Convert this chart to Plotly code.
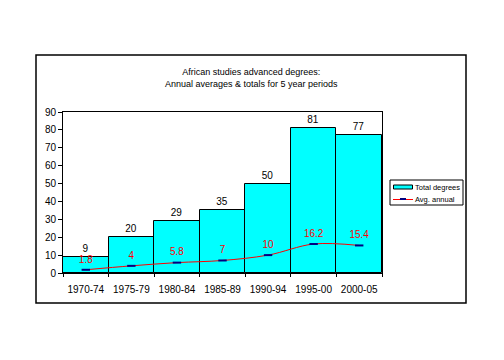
import plotly.graph_objects as go

periods = ["1970-74", "1975-79", "1980-84", "1985-89", "1990-94", "1995-00", "2000-05"]
total_degrees = [9, 20, 29, 35, 50, 81, 77]
avg_annual = [1.8, 4, 5.8, 7, 10, 16.2, 15.4]
avg_labels = ["1.8", "4", "5.8", "7", "10", "16.2", "15.4"]
series_names = ["Total degrees", "Avg. annual"]

FONT = "Liberation Sans, Arial, sans-serif"
CYAN = "#00FFFF"
NAVY = "#000080"

fig = go.Figure()
fig.add_trace(go.Bar(
    x=periods, y=total_degrees, name=series_names[0],
    marker=dict(color=CYAN, line=dict(color="black", width=1)),
    text=[str(v) for v in total_degrees], textposition="outside",
    textfont=dict(color="black", size=10, family=FONT),
    cliponaxis=False, showlegend=False,
))
fig.add_trace(go.Scatter(
    x=periods, y=avg_annual, name=series_names[1],
    mode="lines+markers+text",
    line=dict(color="red", width=1, shape="spline"),
    marker=dict(symbol="line-ew", size=6, line=dict(color=NAVY, width=2), color=NAVY),
    text=avg_labels, textposition="top center",
    textfont=dict(color="red", size=10, family=FONT),
    cliponaxis=False, showlegend=False,
))

L, R, T, B = 63, 382, 112, 273
W, H = 504, 360
pw, ph = R - L, B - T

def px(x):
    return (x - L) / pw

def py(y):
    return (B - y) / ph

def prect(x0, y0, x1, y1, **kw):
    return dict(type="rect", xref="paper", yref="paper",
                x0=px(x0), x1=px(x1), y0=py(y1), y1=py(y0), **kw)

def pline(x0, y0, x1, y1, **kw):
    return dict(type="line", xref="paper", yref="paper",
                x0=px(x0), x1=px(x1), y0=py(y0), y1=py(y1), **kw)

shapes = [
    prect(36, 55, 466, 303, line=dict(color="black", width=1.5), layer="below"),
    # legend box
    prect(390, 180, 463, 205, line=dict(color="black", width=1), fillcolor="white"),
    prect(393.5, 185, 412.5, 189, line=dict(color="black", width=1), fillcolor=CYAN),
    pline(393, 199.5, 413, 199.5, line=dict(color="red", width=1)),
    pline(400, 199, 406, 199, line=dict(color=NAVY, width=2)),
]

annotations = [
    dict(x=px(251), y=py(77.5), xref="paper", yref="paper",
         text="African studies advanced degrees:<br>Annual averages & totals for 5 year periods",
         showarrow=False, xanchor="center", yanchor="middle",
         font=dict(size=9, family=FONT, color="black")),
    dict(x=px(413), y=py(187), xref="paper", yref="paper", text=series_names[0],
         showarrow=False, xanchor="left", yanchor="middle",
         font=dict(size=7.5, family=FONT, color="black")),
    dict(x=px(413), y=py(199), xref="paper", yref="paper", text=series_names[1],
         showarrow=False, xanchor="left", yanchor="middle",
         font=dict(size=7.5, family=FONT, color="black")),
]

fig.update_layout(
    width=W, height=H,
    margin=dict(l=L, r=W - R, t=T, b=H - B),
    paper_bgcolor="white", plot_bgcolor="white",
    font=dict(family=FONT, size=10, color="black"),
    bargap=0,
    showlegend=False,
    shapes=shapes,
    annotations=annotations,
)
fig.update_xaxes(
    type="category", tickangle=0, automargin=False,
    showline=True, linecolor="black", linewidth=1, mirror=True,
    ticks="outside", tickson="boundaries", ticklen=3, tickcolor="black",
    ticklabelstandoff=7,
    showgrid=False, tickfont=dict(size=10),
)
fig.update_yaxes(
    range=[0, 90], dtick=10, automargin=False,
    showline=True, linecolor="black", linewidth=1, mirror=True,
    ticks="outside", ticklen=4, tickcolor="black",
    showgrid=False, zeroline=False, tickfont=dict(size=10),
)

fig.write_html("out.html", config={"displayModeBar": False},
               post_script="document.body.style.margin='0';")
